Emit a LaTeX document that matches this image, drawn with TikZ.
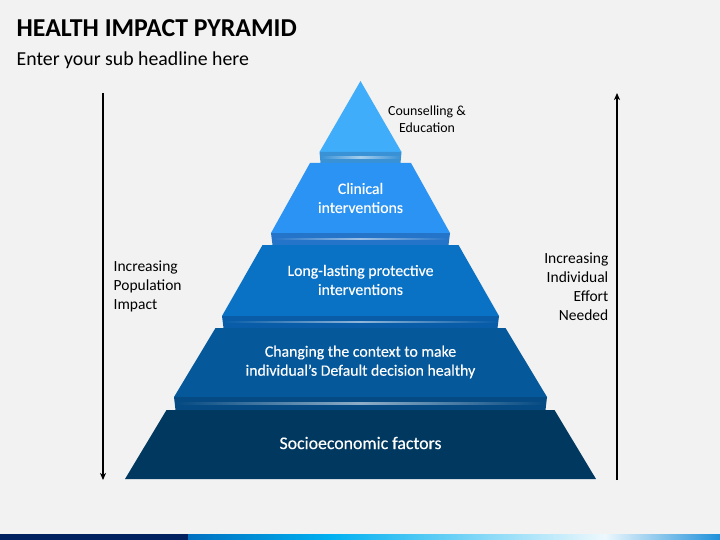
\documentclass[tikz,border=0pt]{standalone}
\usepackage{fontspec}
\setmainfont{Carlito}
\newfontfamily\lblfont{Carlito}[FakeBold=0.35]
\usetikzlibrary{arrows.meta}
\definecolor{bg}{HTML}{F2F2F2}
\definecolor{cA}{HTML}{3FADFA}
\definecolor{bA}{HTML}{3A92D6}
\definecolor{cB}{HTML}{2A93F4}
\definecolor{bB}{HTML}{2474C9}
\definecolor{cC}{HTML}{0A72C5}
\definecolor{bC}{HTML}{095DA8}
\definecolor{cD}{HTML}{05589A}
\definecolor{bD}{HTML}{054A82}
\definecolor{cE}{HTML}{00385F}
\definecolor{navy}{HTML}{002060}
\definecolor{blueA}{HTML}{0070C0}
\definecolor{cyanA}{HTML}{00B0F0}
\definecolor{paleA}{HTML}{EEF8FD}
\definecolor{blueB}{HTML}{1E90DA}
\tikzset{
  lbl/.style={inner sep=0pt, text=white, font=\lblfont\fontsize{15.8}{19}\selectfont, align=center},
  side/.style={inner sep=0pt, text=black, font=\fontsize{15.5}{19}\selectfont},
  axis/.style={line width=1.4pt, -{Stealth[length=7pt,width=6pt,inset=2pt]}},
}
% layer: ytop, hwtop, ybot, hwbot, fill, band fill, band bottom
\newcommand{\pyrlayer}[7]{%
  \fill[#5] (360.5-#2,#1) -- (360.5+#2,#1) -- (360.5+#4,#3) -- (360.5-#4,#3) -- cycle;
  \fill[#6] (360.5-#4,#3) -- (360.5+#4,#3) -- (359+#4,#7) -- (362-#4,#7) -- cycle;
  \shade[left color=#6, right color=#6, middle color=white!55!#6]
    (362-#4,{(#3+#7)/2-0.7}) rectangle (359+#4,{(#3+#7)/2+0.7});
}
\begin{document}
\begin{tikzpicture}[x=1pt,y=-1pt]
\useasboundingbox (0,0) rectangle (720,540);
\fill[bg] (0,0) rectangle (720,540);
% title
\node[anchor=base west, inner sep=0pt, font=\fontsize{25.8}{30}\selectfont\bfseries] (title) at (16.5,36.5) {HEALTH IMPACT PYRAMID};
\node[anchor=base west, inner sep=0pt, font=\fontsize{19.8}{24}\selectfont] (sub) at (16.5,66) {Enter your sub headline here};
% pyramid
\fill[cA] (360.5,81) -- (401.5,152) -- (319.5,152) -- cycle;
\fill[bA] (319.5,152) -- (401.5,152) -- (400.5,163) -- (320.5,163) -- cycle;
\shade[left color=bA, right color=bA, middle color=white!55!bA] (321,156.8) rectangle (400,158.2);
\pyrlayer{163}{50.5}{233}{89.5}{cB}{bB}{245}
\pyrlayer{245}{98}{316}{138.5}{cC}{bC}{328}
\pyrlayer{328}{145}{397}{186.5}{cD}{bD}{410}
\fill[cE] (360.5-194,410) -- (360.5+194,410) -- (360.5+235.5,479) -- (360.5-235.5,479) -- cycle;
% labels
\node[inner sep=0pt, font=\fontsize{13.9}{17}\selectfont, align=center] (top) at (427,119) {Counselling \&\\Education};
\node[lbl] (clin) at (360.5,198) {Clinical\\interventions};
\node[lbl] (long) at (360.5,280) {Long-lasting protective\\interventions};
\node[lbl] (chg) at (360.5,362) {Changing the context to make\\individual’s Default decision healthy};
\node[lbl, font=\lblfont\fontsize{17.8}{21}\selectfont] (soc) at (360.5,443) {Socioeconomic factors};
% axes
\coordinate (la) at (103,93);
\coordinate (lb) at (103,480);
\coordinate (ra) at (617,480);
\coordinate (rb) at (617,93);
\draw[axis] (la) -- (lb);
\draw[axis] (ra) -- (rb);
\node[side, anchor=west, align=left] (lt) at (113.5,286) {Increasing\\Population\\Impact};
\node[side, anchor=east, align=right] (rt) at (608.5,286.5) {Increasing\\Individual\\Effort\\Needed};
% bottom bar
\fill[navy] (0,534) rectangle (188,540);
\shade[left color=blueA, right color=cyanA] (188,534) rectangle (330,540);
\shade[left color=cyanA, right color=paleA] (329.5,534) rectangle (605,540);
\shade[left color=paleA, right color=blueB] (604.5,534) rectangle (720,540);
\end{tikzpicture}
\end{document}
